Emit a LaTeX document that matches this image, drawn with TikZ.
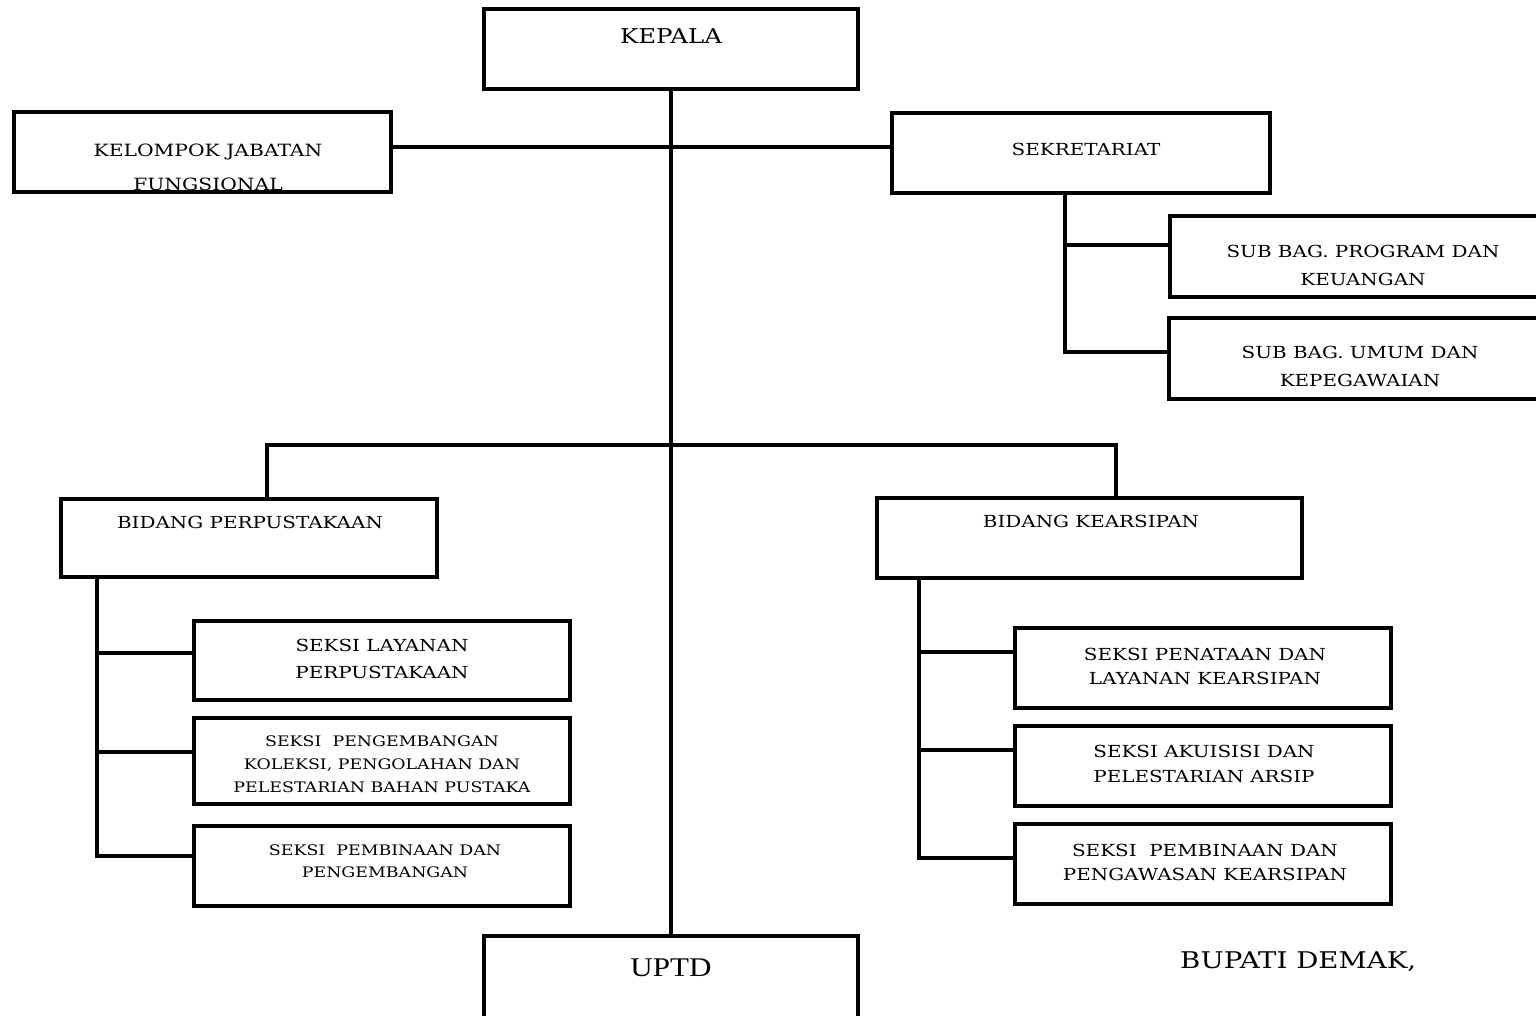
\documentclass[tikz,border=0pt]{standalone}
\usepackage{fontspec}
\setmainfont{DejaVu Serif}[FakeStretch=1.2]
\newfontfamily\uptdfont{Liberation Serif}[FakeStretch=1.15]
\begin{document}
\begin{tikzpicture}[x=1pt,y=-1pt,
  box/.style={draw, line width=3.5pt, rectangle, inner sep=0pt},
  conn/.style={line width=3.5pt},
  txt/.style={align=center, inner sep=0pt},
  med/.style={txt, font=\fontsize{16.6}{#1}\selectfont},
  med/.default=27,
  sml/.style={txt, font=\fontsize{14.5}{#1}\selectfont},
  sml/.default=23]
\useasboundingbox (0,0) rectangle (1536,1016);
\clip (0,0) rectangle (1536,1016);
% texts
\node[txt, font=\fontsize{20.4}{24}\selectfont] (tkep) at (671,36) {KEPALA};
\node[txt, font=\fontsize{16.9}{34}\selectfont] (tkel) at (208,167) {KELOMPOK JABATAN\\FUNGSIONAL};
\node[med] (tsek) at (1086,149) {SEKRETARIAT};
\node[med=28] (tprog) at (1363,265) {SUB BAG. PROGRAM DAN\\KEUANGAN};
\node[med=28] (tumum) at (1360,366) {SUB BAG. UMUM DAN\\KEPEGAWAIAN};
\node[med] (tbperp) at (250,522) {BIDANG PERPUSTAKAAN};
\node[med] (tbkear) at (1091,521) {BIDANG KEARSIPAN};
\node[med=27] (ts1) at (382,658.5) {SEKSI LAYANAN\\PERPUSTAKAAN};
\node[sml=23] (ts2) at (382,764) {SEKSI\ \ PENGEMBANGAN\\KOLEKSI, PENGOLAHAN DAN\\PELESTARIAN BAHAN PUSTAKA};
\node[sml=22] (ts3) at (385,861) {SEKSI\ \ PEMBINAAN DAN\\PENGEMBANGAN};
\node[med=24] (tk1) at (1205,666) {SEKSI PENATAAN DAN\\LAYANAN KEARSIPAN};
\node[med=25] (tk2) at (1204,763.5) {SEKSI AKUISISI DAN\\PELESTARIAN ARSIP};
\node[med=24] (tk3) at (1205,862) {SEKSI\ \ PEMBINAAN DAN\\PENGAWASAN KEARSIPAN};
\node[txt, font=\uptdfont\fontsize{27}{30}\selectfont] (tuptd) at (671,968) {UPTD};
\node[txt, anchor=west, font=\fontsize{23}{26}\selectfont] (bupati) at (1180,962) {BUPATI DEMAK,};
% boxes
\node[box, minimum width=374, minimum height=80] (kepala) at (671,49) {};
\node[box, minimum width=377, minimum height=80] (kel) at (202.5,152) {};
\node[box, minimum width=378, minimum height=80] (sek) at (1081,153) {};
\node[box, minimum width=375, minimum height=81] (prog) at (1357.5,256.5) {};
\node[box, minimum width=376, minimum height=81] (umum) at (1357,358.5) {};
\node[box, minimum width=376, minimum height=78] (bperp) at (249,538) {};
\node[box, minimum width=425, minimum height=80] (bkear) at (1089.5,538) {};
\node[box, minimum width=376, minimum height=79] (s1) at (382,660.5) {};
\node[box, minimum width=376, minimum height=86] (s2) at (382,761) {};
\node[box, minimum width=376, minimum height=80] (s3) at (382,866) {};
\node[box, minimum width=376, minimum height=80] (k1) at (1203,668) {};
\node[box, minimum width=376, minimum height=80] (k2) at (1203,766) {};
\node[box, minimum width=376, minimum height=80] (k3) at (1203,864) {};
\node[box, minimum width=374, minimum height=94] (uptd) at (671,983) {};
% junction coordinates
\coordinate (hj) at (671,147);
\coordinate (sa) at (1065,245);
\coordinate (sb) at (1065,352);
\coordinate (bl) at (267,445);
\coordinate (br) at (1116,445);
\coordinate (la) at (97,653);
\coordinate (lb) at (97,752);
\coordinate (lc) at (97,856);
\coordinate (ra) at (919,652);
\coordinate (rb) at (919,750);
\coordinate (rc) at (919,858);
% connectors
\draw[conn] (kepala.south) -- (uptd.north);
\draw[conn] (kel.east |- hj) -- (sek.west |- hj);
\draw[conn] (sa |- sek.south) -- (sb) -- (sb -| umum.west);
\draw[conn] (sa) -- (sa -| prog.west);
\draw[conn] (bl |- bperp.north) -- (bl) -- (br) -- (br |- bkear.north);
\draw[conn] (la |- bperp.south) -- (lc) -- (lc -| s3.west);
\draw[conn] (la) -- (la -| s1.west);
\draw[conn] (lb) -- (lb -| s2.west);
\draw[conn] (ra |- bkear.south) -- (rc) -- (rc -| k3.west);
\draw[conn] (ra) -- (ra -| k1.west);
\draw[conn] (rb) -- (rb -| k2.west);
\end{tikzpicture}
\end{document}
